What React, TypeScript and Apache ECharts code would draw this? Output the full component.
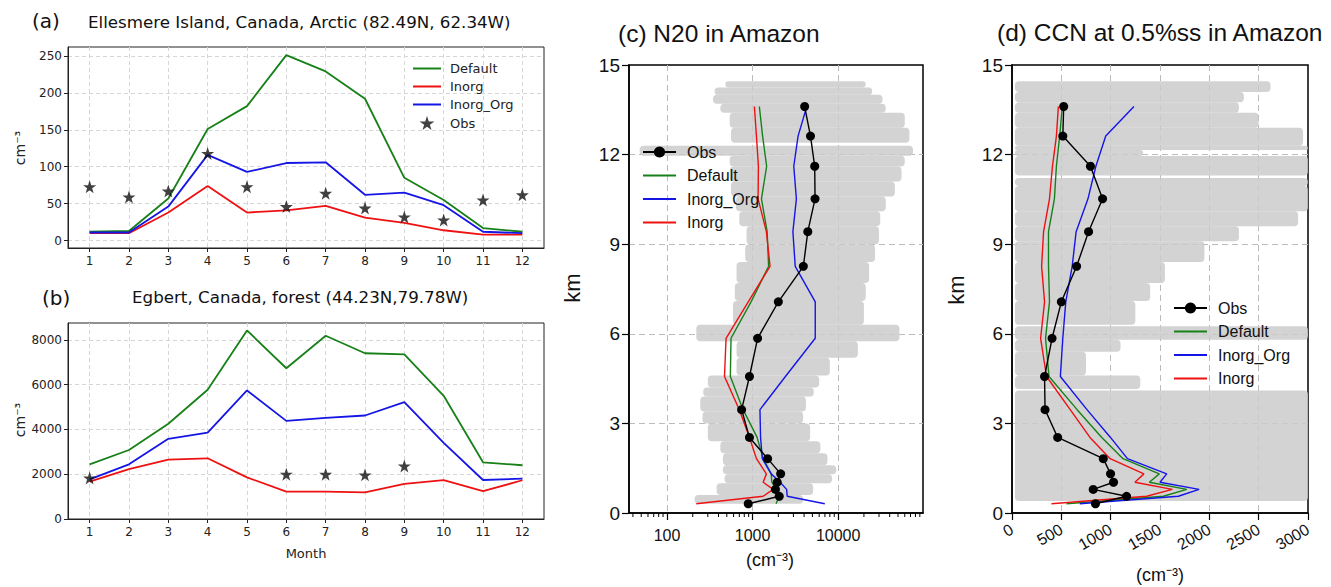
import React, { useEffect, useRef } from 'react';
import * as echarts from 'echarts';

// ---------- Panel (a): Ellesmere Island ----------
const months = [1, 2, 3, 4, 5, 6, 7, 8, 9, 10, 11, 12];
const aDefault = [12, 13, 57, 151, 182, 251, 229, 192, 85, 55, 17, 12];
const aInorg = [10, 10, 38, 74, 38, 41, 47, 31, 24, 14, 8, 8];
const aInorgOrg = [11, 11, 46, 116, 93, 105, 106, 62, 65, 48, 12, 10];
const aObs = [73, 59, 67, 118, 73, 46, 64, 44, 32, 28, 55, 62];

// ---------- Panel (b): Egbert ----------
const bDefault = [2440, 3080, 4250, 5770, 8420, 6730, 8180, 7400, 7350, 5500, 2530, 2400];
const bInorg = [1670, 2230, 2650, 2710, 1860, 1220, 1220, 1190, 1570, 1740, 1240, 1730];
const bInorgOrg = [1770, 2440, 3580, 3860, 5740, 4380, 4510, 4620, 5220, 3400, 1740, 1800];
const bObsMonths = [1, 6, 7, 8, 9];
const bObs = [1830, 2000, 2000, 1970, 2370];

// ---------- Panels (c) and (d): vertical profiles (km) ----------
const altitudes = [13.61, 12.62, 11.61, 10.52, 9.42, 8.26, 7.07, 5.85, 4.57, 3.46, 2.53, 1.82, 1.31, 1.03, 0.79, 0.56, 0.31];

const cObs = [4060, 4750, 5320, 5370, 4420, 3920, 2000, 1145, 920, 745, 920, 1500, 2130, 1940, 1850, 2050, 890];
const cDefault = [1200, 1310, 1460, 1270, 1480, 1540, 960, 560, 550, 775, 1130, 1330, 1650, 1680, 1900, 2050, 1880];
const cInorg = [1050, 1110, 1170, 1160, 1450, 1600, 890, 490, 470, 700, 920, 1110, 1450, 1330, 1740, 1330, 220];
const cInorgOrg = [4300, 3400, 3030, 3250, 2960, 3150, 5400, 5400, 2420, 1220, 1240, 1300, 1650, 2100, 2500, 2540, 6980];

const dObs = [524, 515, 795, 918, 776, 655, 500, 406, 330, 335, 463, 925, 999, 1029, 823, 1161, 846];
const dDefault = [510, 483, 450, 430, 370, 370, 380, 340, 375, 660, 910, 1125, 1493, 1392, 1771, 1534, 552];
const dInorg = [470, 450, 410, 380, 320, 300, 330, 290, 350, 590, 790, 995, 1337, 1246, 1625, 1365, 400];
const dInorgOrg = [1236, 950, 850, 770, 650, 610, 545, 515, 490, 760, 998, 1170, 1568, 1500, 1896, 1686, 687];

// gray observation cloud: [altLow, altHigh, xMin, xMax]
const cCloud = [
  [14.25, 14.46, 480, 21000],
  [14.0, 14.25, 360, 25000],
  [13.7, 14.0, 345, 33000],
  [13.4, 13.7, 420, 36000],
  [12.9, 13.4, 540, 60000],
  [12.4, 12.9, 560, 68000],
  [11.96, 12.3, 48, 75000],
  [11.6, 11.96, 540, 60000],
  [11.1, 11.6, 541, 55000],
  [10.6, 11.1, 560, 46000],
  [10.1, 10.6, 640, 36000],
  [9.6, 10.1, 700, 31000],
  [9.0, 9.6, 850, 30000],
  [8.4, 9.0, 820, 27000],
  [7.7, 8.4, 650, 23000],
  [7.1, 7.7, 620, 21000],
  [6.3, 7.1, 590, 20000],
  [5.75, 6.3, 220, 52000],
  [5.2, 5.75, 650, 17000],
  [4.6, 5.2, 650, 8000],
  [4.2, 4.6, 300, 6000],
  [3.9, 4.2, 265, 5200],
  [3.4, 3.9, 245, 4200],
  [3.0, 3.4, 260, 3900],
  [2.4, 3.0, 300, 4700],
  [2.0, 2.4, 420, 6200],
  [1.6, 2.0, 450, 7500],
  [1.3, 1.6, 450, 9500],
  [1.0, 1.3, 470, 8500],
  [0.6, 1.0, 380, 5100],
  [0.31, 0.6, 210, 3900],
];
const dCloud = [
  [14.1, 14.46, 30, 2620],
  [13.75, 14.1, 30, 2350],
  [13.4, 13.75, 30, 2300],
  [12.9, 13.4, 30, 2500],
  [12.3, 12.9, 30, 2950],
  [12.15, 12.3, 30, 3000],
  [11.95, 12.15, 30, 1330],
  [11.3, 11.95, 30, 3000],
  [10.95, 11.22, 30, 3000],
  [10.1, 10.95, 30, 3000],
  [9.6, 10.1, 30, 2900],
  [9.1, 9.6, 30, 2300],
  [8.4, 9.1, 30, 1950],
  [7.7, 8.4, 30, 1550],
  [7.1, 7.7, 30, 1400],
  [6.3, 7.1, 30, 1250],
  [5.8, 6.25, 30, 3000],
  [5.4, 5.8, 30, 1100],
  [4.6, 5.4, 30, 750],
  [4.15, 4.6, 30, 1300],
  [0.4, 4.1, 30, 3000],
];
const cMinorTicks = [40, 50, 60, 70, 80, 90, 200, 300, 400, 500, 600, 700, 800, 900, 2000, 3000, 4000, 5000, 6000, 7000, 8000, 9000, 20000, 30000, 40000, 50000, 60000, 70000, 80000, 90000];

const GREEN = '#188018';
const RED = '#ee1111';
const BLUE = '#1515e6';
const STAR = 'path://M50,0 L61.8,35.1 L98.1,35.1 L68.8,56.8 L79.4,91.2 L50,70 L20.6,91.2 L31.2,56.8 L1.9,35.1 L38.2,35.1 Z';
const MPL = 'DejaVu Sans';
const HELV = 'Liberation Sans';

const pairs = (xs: number[], ys: number[]) => xs.map((x, i) => [x, ys[i]]);
const prof = (xs: number[]) => xs.map((x, i) => [x, altitudes[i]]);
const plain = (v: number) => String(v);

function monthAxis(gridIndex: number) {
  return {
    gridIndex, type: 'value', min: 0.45, max: 12.55, splitNumber: 12,
    axisLine: { show: true, onZero: false, lineStyle: { color: '#222', width: 1 } },
    axisTick: { show: true, length: 4, lineStyle: { color: '#222' } },
    axisLabel: { fontSize: 12, color: '#222', margin: 7, fontFamily: MPL, showMinLabel: false, showMaxLabel: false, formatter: plain },
    splitLine: { show: true, showMinLine: false, showMaxLine: false, lineStyle: { color: '#d6d6d6', type: [4, 3], width: 1 } },
  };
}

function cloudSeries(xAxisIndex: number, yAxisIndex: number, data: number[][]) {
  return {
    type: 'custom', xAxisIndex, yAxisIndex, silent: true, z: 1,
    data,
    encode: { x: [2, 3], y: [0, 1] },
    renderItem: (params: any, api: any) => {
      const p1 = api.coord([api.value(2), api.value(1)]);
      const p2 = api.coord([api.value(3), api.value(0)]);
      return {
        type: 'rect',
        shape: { x: p1[0], y: p1[1], width: p2[0] - p1[0], height: p2[1] - p1[1], r: 4 },
        style: { fill: '#cbcbcd', opacity: 0.85 },
      };
    },
  };
}

export default function App() {
  const ref = useRef<HTMLDivElement>(null);
  useEffect(() => {
    if (!ref.current) return;
    const chart = echarts.init(ref.current, null, { renderer: 'svg' });
    const lineA = (name: string, color: string, data: any, xi: number) => ({
      name, type: 'line', xAxisIndex: xi, yAxisIndex: xi, data, symbol: 'none',
      lineStyle: { color, width: 1.8 }, itemStyle: { color }, z: 3,
    });
    const lineP = (name: string, color: string, data: any, xi: number) => ({
      name, type: 'line', xAxisIndex: xi, yAxisIndex: xi, data, symbol: 'none',
      lineStyle: { color, width: 1.4 }, itemStyle: { color }, z: 3,
    });
    const obsP = (name: string, data: any, xi: number) => ({
      name, type: 'line', xAxisIndex: xi, yAxisIndex: xi, data, symbol: 'circle', symbolSize: 9,
      lineStyle: { color: '#000', width: 1.4 }, itemStyle: { color: '#000' }, z: 4,
    });
    const fmt = (n: string) => n.split('|')[1];
    const noSym = (name: string) => ({ name, itemStyle: { opacity: 0 } });

    const boxAxisY = (gridIndex: number) => ({
      gridIndex, type: 'value', min: 0, max: 15, interval: 3,
      axisLine: { show: true, onZero: false, lineStyle: { color: '#000', width: 1.5 } },
      axisTick: { show: true, length: 7, lineStyle: { color: '#000', width: 1.2 } },
      axisLabel: { fontSize: 19, color: '#111', margin: 9, fontFamily: HELV },
      splitLine: { show: true, showMinLine: false, showMaxLine: false, lineStyle: { color: '#bbbbbb', type: [6, 4], width: 1 } },
    });

    const option: any = {
      animation: false,
      backgroundColor: '#fff',
      textStyle: { fontFamily: MPL },
      grid: [
        { left: 68, top: 47, width: 476, height: 201, show: true, borderColor: '#222', borderWidth: 1, backgroundColor: 'transparent' },
        { left: 68, top: 323, width: 476, height: 196, show: true, borderColor: '#222', borderWidth: 1, backgroundColor: 'transparent' },
        { left: 629, top: 65, width: 294, height: 448, show: true, borderColor: '#000', borderWidth: 1.5, backgroundColor: 'transparent' },
        { left: 1012, top: 65, width: 296, height: 448, show: true, borderColor: '#000', borderWidth: 1.5, backgroundColor: 'transparent' },
      ],
      xAxis: [
        monthAxis(0),
        monthAxis(1),
        {
          gridIndex: 2, type: 'log', logBase: 10, min: 36, max: 98000,
          axisLine: { show: true, onZero: false, lineStyle: { color: '#000', width: 1.5 } },
          axisTick: { show: true, length: 7, lineStyle: { color: '#000', width: 1.2 } },
          axisLabel: {
            fontSize: 16, color: '#111', margin: 14, fontFamily: HELV, showMinLabel: false, showMaxLabel: false,
            formatter: (v: number) => {
              const l = Math.log10(v);
              return Math.abs(l - Math.round(l)) < 1e-6 ? String(Math.round(v)) : '';
            },
          },
          splitLine: { show: true, showMinLine: false, showMaxLine: false, lineStyle: { color: '#bbbbbb', type: [6, 4], width: 1 } },
        },
        {
          gridIndex: 3, type: 'value', min: 0, max: 3000, interval: 500,
          axisLine: { show: true, onZero: false, lineStyle: { color: '#000', width: 1.5 } },
          axisTick: { show: true, length: 7, lineStyle: { color: '#000', width: 1.2 } },
          axisLabel: { fontSize: 16, color: '#111', margin: 15, rotate: 30, fontFamily: HELV, formatter: plain },
          splitLine: { show: true, showMinLine: false, showMaxLine: false, lineStyle: { color: '#bbbbbb', type: [6, 4], width: 1 } },
        },
      ],
      yAxis: [
        {
          gridIndex: 0, type: 'value', min: -10, max: 262, splitNumber: 5,
          axisLine: { show: true, onZero: false, lineStyle: { color: '#222' } },
          axisTick: { show: true, length: 4, lineStyle: { color: '#222' } },
          axisLabel: { fontSize: 12, color: '#222', margin: 6, fontFamily: MPL, showMinLabel: false, showMaxLabel: false, formatter: plain },
          splitLine: { show: true, showMinLine: false, showMaxLine: false, lineStyle: { color: '#d6d6d6', type: [4, 3], width: 1 } },
        },
        {
          gridIndex: 1, type: 'value', min: 0, max: 8750, interval: 2000,
          axisLine: { show: true, onZero: false, lineStyle: { color: '#222' } },
          axisTick: { show: true, length: 4, lineStyle: { color: '#222' } },
          axisLabel: { fontSize: 12, color: '#222', margin: 6, fontFamily: MPL, showMaxLabel: false, formatter: plain },
          splitLine: { show: true, showMinLine: false, showMaxLine: false, lineStyle: { color: '#d6d6d6', type: [4, 3], width: 1 } },
        },
        boxAxisY(2),
        boxAxisY(3),
      ],
      legend: [
        {
          data: [noSym('a|Default'), noSym('a|Inorg'), noSym('a|Inorg_Org'), 'a|Obs'], orient: 'vertical', left: 412, top: 62,
          itemWidth: 28, itemHeight: 14, itemGap: 5, padding: 0, selectedMode: false, formatter: fmt,
          textStyle: { fontSize: 13, color: '#222', fontFamily: MPL, padding: [0, 0, 0, 4] },
        },
        {
          data: ['c|Obs', noSym('c|Default'), noSym('c|Inorg_Org'), noSym('c|Inorg')], orient: 'vertical', left: 642, top: 143,
          itemWidth: 33, itemHeight: 14, itemGap: 5.5, padding: 0, selectedMode: false, formatter: fmt,
          textStyle: { fontSize: 16, lineHeight: 18, color: '#111', fontFamily: HELV, padding: [0, 0, 0, 6] },
        },
        {
          data: ['d|Obs', noSym('d|Default'), noSym('d|Inorg_Org'), noSym('d|Inorg')], orient: 'vertical', left: 1173, top: 299,
          itemWidth: 33, itemHeight: 14, itemGap: 5.5, padding: 0, selectedMode: false, formatter: fmt,
          textStyle: { fontSize: 16, lineHeight: 18, color: '#111', fontFamily: HELV, padding: [0, 0, 0, 6] },
        },
      ],
      series: [
        lineA('a|Default', GREEN, pairs(months, aDefault), 0),
        lineA('a|Inorg', RED, pairs(months, aInorg), 0),
        lineA('a|Inorg_Org', BLUE, pairs(months, aInorgOrg), 0),
        {
          name: 'a|Obs', type: 'scatter', xAxisIndex: 0, yAxisIndex: 0, data: pairs(months, aObs),
          symbol: STAR, symbolSize: 13, itemStyle: { color: '#111' }, z: 4,
        },
        lineA('b|Default', GREEN, pairs(months, bDefault), 1),
        lineA('b|Inorg', RED, pairs(months, bInorg), 1),
        lineA('b|Inorg_Org', BLUE, pairs(months, bInorgOrg), 1),
        {
          name: 'b|Obs', type: 'scatter', xAxisIndex: 1, yAxisIndex: 1, data: pairs(bObsMonths, bObs),
          symbol: STAR, symbolSize: 13, itemStyle: { color: '#111' }, z: 4,
        },
        cloudSeries(2, 2, cCloud),
        {
          type: 'custom', xAxisIndex: 2, yAxisIndex: 2, silent: true, clip: false,
          data: cMinorTicks.map((v) => [v, 0]),
          renderItem: (params: any, api: any) => {
            const p = api.coord([api.value(0), 0]);
            return {
              type: 'line', shape: { x1: p[0], y1: p[1], x2: p[0], y2: p[1] + 4 },
              style: { stroke: '#000', lineWidth: 1 },
            };
          },
        },
        lineP('c|Default', GREEN, prof(cDefault), 2),
        lineP('c|Inorg_Org', BLUE, prof(cInorgOrg), 2),
        lineP('c|Inorg', RED, prof(cInorg), 2),
        obsP('c|Obs', prof(cObs), 2),
        cloudSeries(3, 3, dCloud),
        lineP('d|Default', GREEN, prof(dDefault), 3),
        lineP('d|Inorg_Org', BLUE, prof(dInorgOrg), 3),
        lineP('d|Inorg', RED, prof(dInorg), 3),
        obsP('d|Obs', prof(dObs), 3),
      ],
      graphic: [
        { type: 'text', x: 32, y: 21, style: { text: '(a)', fontSize: 20, fontFamily: MPL, fill: '#111', verticalAlign: 'middle' } },
        { type: 'text', x: 88, y: 22, style: { text: 'Ellesmere Island, Canada, Arctic (82.49N, 62.34W)', fontSize: 16.7, fontFamily: MPL, fill: '#111', verticalAlign: 'middle' } },
        { type: 'text', x: 42, y: 298, style: { text: '(b)', fontSize: 20, fontFamily: MPL, fill: '#111', verticalAlign: 'middle' } },
        { type: 'text', x: 132, y: 297, style: { text: 'Egbert, Canada, forest (44.23N,79.78W)', fontSize: 16.7, fontFamily: MPL, fill: '#111', verticalAlign: 'middle' } },
        { type: 'text', x: 20, y: 148, rotation: Math.PI / 2, style: { text: 'cm⁻³', fontSize: 14, fontFamily: MPL, fill: '#222', align: 'center', verticalAlign: 'middle' } },
        { type: 'text', x: 20, y: 420, rotation: Math.PI / 2, style: { text: 'cm⁻³', fontSize: 14, fontFamily: MPL, fill: '#222', align: 'center', verticalAlign: 'middle' } },
        { type: 'text', x: 306, y: 553, style: { text: 'Month', fontSize: 13, fontFamily: MPL, fill: '#222', align: 'center', verticalAlign: 'middle' } },
        { type: 'text', x: 618, y: 33, style: { text: '(c) N20 in Amazon', fontSize: 24.5, fontFamily: HELV, fill: '#111', verticalAlign: 'middle' } },
        { type: 'text', x: 997, y: 32, style: { text: '(d) CCN at 0.5%ss in Amazon', fontSize: 24.5, fontFamily: HELV, fill: '#111', verticalAlign: 'middle' } },
        { type: 'text', x: 572, y: 288, rotation: Math.PI / 2, style: { text: 'km', fontSize: 22, fontFamily: HELV, fill: '#111', align: 'center', verticalAlign: 'middle' } },
        { type: 'text', x: 956, y: 290, rotation: Math.PI / 2, style: { text: 'km', fontSize: 22, fontFamily: HELV, fill: '#111', align: 'center', verticalAlign: 'middle' } },
        { type: 'text', x: 770, y: 560, style: { text: '(cm⁻³)', fontSize: 18, fontFamily: HELV, fill: '#111', align: 'center', verticalAlign: 'middle' } },
        { type: 'text', x: 1160, y: 575, style: { text: '(cm⁻³)', fontSize: 18, fontFamily: HELV, fill: '#111', align: 'center', verticalAlign: 'middle' } },
      ],
    };
    chart.setOption(option);
    return () => chart.dispose();
  }, []);
  return <div ref={ref} style={{ position: 'absolute', left: 0, top: 0, width: 1331, height: 587, background: '#fff' }} />;
}
